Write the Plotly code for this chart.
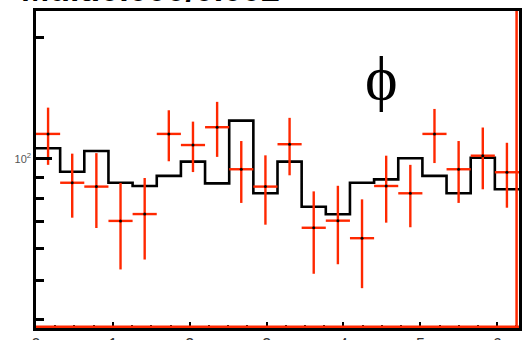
import numpy as np
import plotly.graph_objects as go

# 20 bins in phi from 0 to 2*pi
n_bins = 20
phi_min, phi_max = 0.0, 2 * np.pi

# black histogram (reference / model)
hist_vals = [106.3, 93.0, 104.7, 87.3, 85.7, 90.8, 98.5, 87.0, 124.5, 82.2,
             98.5, 76.1, 72.9, 87.3, 89.0, 100.4, 90.8, 82.2, 100.7, 84.1]

# red data points with errors
data_vals = [115.4, 87.3, 85.4, 70.2, 73.0, 115.4, 108.3, 119.9, 94.3, 85.4,
             108.8, 67.5, 70.3, 63.6, 85.7, 82.2, 115.4, 94.3, 101.9, 92.7]
data_err = [18.7, 15.8, 18.0, 17.0, 16.7, 16.7, 15.5, 18.7, 16.5, 16.7,
            17.7, 15.6, 15.5, 15.8, 16.2, 14.5, 17.7, 16.5, 17.8, 17.0]

x_ticks = [0, 1, 2, 3, 4, 5, 6]
y_major = [100]
y_major_text = ["10<sup>2</sup>"]
y_minor = [40, 50, 60, 70, 80, 90, 200]

title_text = "Mult.0.000/0.002"
label_text = "\u03d5"

edges = np.linspace(phi_min, phi_max, n_bins + 1)
centers = 0.5 * (edges[:-1] + edges[1:])
half_w = 0.5 * (edges[1] - edges[0])

red = "#ff2800"

fig = go.Figure()
fig.add_trace(go.Scatter(
    x=edges, y=list(hist_vals) + [hist_vals[-1]],
    mode="lines", line=dict(shape="hv", color="black", width=2.6),
    hoverinfo="skip", showlegend=False))
fig.add_trace(go.Scatter(
    x=centers, y=data_vals, mode="markers",
    marker=dict(color="black", size=3),
    error_y=dict(type="data", array=data_err, color=red, thickness=2.4, width=0),
    error_x=dict(type="constant", value=half_w, color=red, thickness=2.4, width=0),
    showlegend=False))

fig.add_annotation(x=(381 - 36) / 483, y=(328 - 78) / 317, xref="paper", yref="paper",
                   text=label_text, showarrow=False,
                   font=dict(family="Liberation Serif", size=62, color="black"),
                   xanchor="center", yanchor="middle")
fig.add_annotation(x=(282 - 36) / 483, y=(328 - 10) / 317, xref="paper", yref="paper",
                   text="<b>" + title_text + "</b>", showarrow=False,
                   font=dict(family="Liberation Sans", size=34, color="black"),
                   xanchor="right", yanchor="bottom")

# red outline along bottom and right edges
fig.add_shape(type="line", xref="paper", yref="paper", x0=0, x1=1, y0=0.004, y1=0.004,
              line=dict(color=red, width=2.5))
fig.add_shape(type="line", xref="paper", yref="paper", x0=0.995, x1=0.995, y0=0, y1=1,
              line=dict(color=red, width=2.5))

fig.update_layout(
    width=522, height=340,
    margin=dict(l=36, r=3, t=11, b=12),
    paper_bgcolor="white", plot_bgcolor="white",
    xaxis=dict(range=[phi_min, phi_max], tickvals=x_ticks, ticks="inside", ticklen=6,
               tickwidth=2, tickcolor="black", showline=True, linecolor="black",
               linewidth=2.5, mirror=True, showgrid=False, zeroline=False,
               automargin=False,
               tickfont=dict(family="Liberation Sans", size=16, color="#333"),
               minor=dict(dtick=0.25, ticks="inside", ticklen=3, tickwidth=2,
                          tickcolor="black", showgrid=False)),
    yaxis=dict(type="log", range=[1.5806, 2.3672], tickvals=y_major, ticktext=y_major_text,
               ticks="inside", ticklen=16, tickwidth=2.5, tickcolor="black",
               showline=True, linecolor="black", linewidth=2.5, mirror=True,
               showgrid=False, zeroline=False, automargin=False,
               tickfont=dict(family="Liberation Sans", size=11, color="#555555"),
               minor=dict(tickmode="array", tickvals=y_minor, ticks="inside", ticklen=8,
                          tickwidth=2.5, tickcolor="black", showgrid=False)),
)

fig.write_html("out.html")
